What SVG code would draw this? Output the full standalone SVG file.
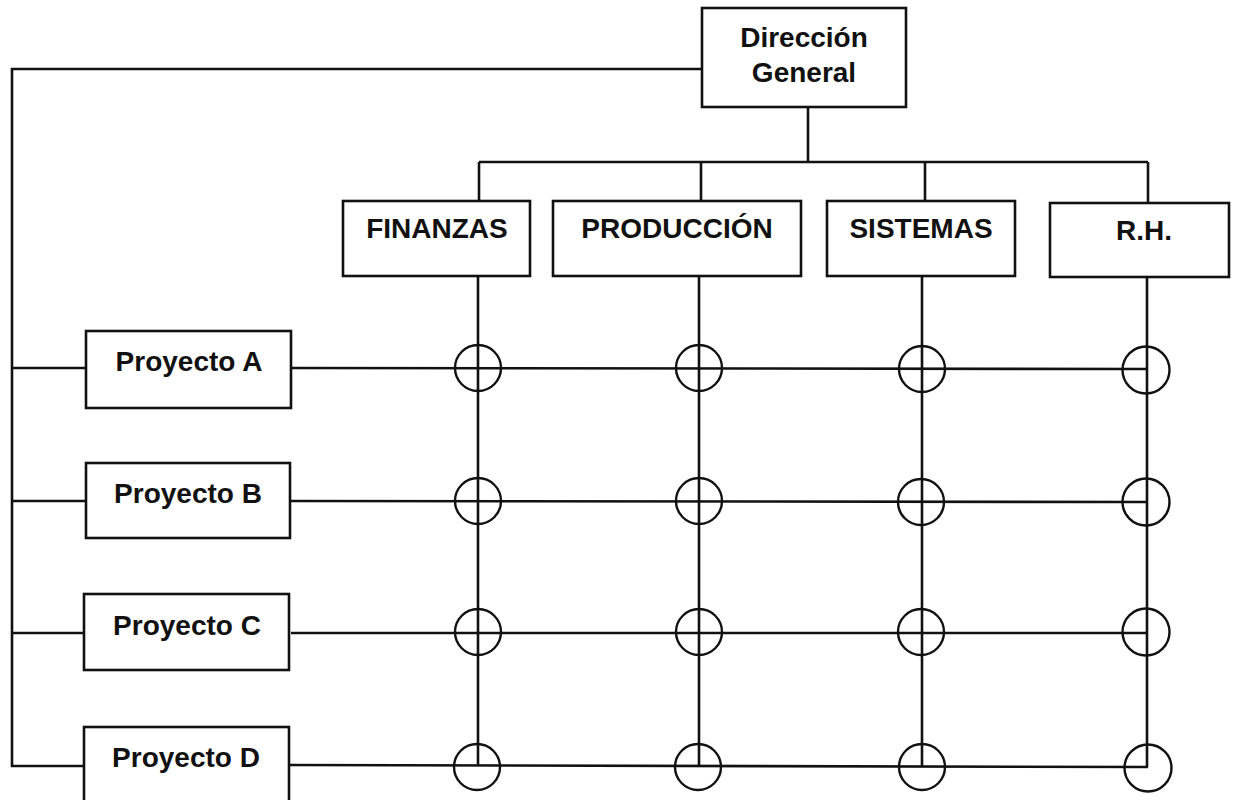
<svg xmlns="http://www.w3.org/2000/svg" width="1233" height="800" viewBox="0 0 1233 800">
  <style>
    .box { fill: #ffffff; stroke: #111111; stroke-width: 2.6; }
    .wire { fill: none; stroke: #111111; stroke-width: 2.6; stroke-linejoin: miter; }
    .node { fill: none; stroke: #111111; stroke-width: 2.4; }
    .lbl { font-family: "Liberation Sans", Arial, sans-serif; font-weight: bold; font-size: 28px; fill: #111111; text-anchor: middle; }
  </style>
  <rect width="1233" height="800" fill="#ffffff"/>

  <!-- connectors: hierarchy lines, project rows and matrix columns -->
  <g id="connectors" class="wire">
    <!-- general management to the project line -->
    <polyline points="702,69 12,69 12,766 84,766"/>
    <line x1="12" y1="368" x2="86" y2="368"/>
    <line x1="12" y1="501" x2="86" y2="501"/>
    <line x1="12" y1="633" x2="86" y2="633"/>
    <!-- general management to departments -->
    <line x1="808" y1="107" x2="808" y2="162"/>
    <line x1="479" y1="162" x2="1148" y2="162"/>
    <line x1="479" y1="162" x2="479" y2="201"/>
    <line x1="701" y1="162" x2="701" y2="201"/>
    <line x1="925" y1="162" x2="925" y2="201"/>
    <line x1="1148" y1="162" x2="1148" y2="203"/>
    <!-- department columns -->
    <line x1="478" y1="276" x2="478" y2="766"/>
    <line x1="699" y1="276" x2="699" y2="766"/>
    <line x1="922" y1="276" x2="922" y2="766"/>
    <line x1="1147" y1="277" x2="1147" y2="767"/>
    <!-- project rows -->
    <line x1="291" y1="368" x2="1147" y2="369"/>
    <line x1="291" y1="501" x2="1147" y2="502"/>
    <line x1="291" y1="633" x2="1147" y2="633"/>
    <line x1="289" y1="765" x2="1148" y2="767"/>
  </g>

  <!-- matrix intersections -->
  <g id="intersections" class="node">
    <circle cx="478" cy="368" r="23"/>
    <circle cx="699" cy="368" r="23"/>
    <circle cx="922" cy="369" r="23"/>
    <circle cx="1146" cy="370" r="23.5"/>
    <circle cx="478" cy="501" r="23"/>
    <circle cx="699" cy="501" r="23"/>
    <circle cx="921" cy="502" r="23"/>
    <circle cx="1146" cy="502" r="23.5"/>
    <circle cx="478" cy="632" r="23"/>
    <circle cx="699" cy="632" r="23"/>
    <circle cx="921" cy="632" r="23"/>
    <circle cx="1146" cy="632" r="23.5"/>
    <circle cx="477" cy="767" r="23"/>
    <circle cx="698" cy="767" r="23"/>
    <circle cx="922" cy="767" r="23"/>
    <circle cx="1148" cy="768" r="23.5"/>
  </g>

  <g id="direccion-general">
    <rect class="box" x="702" y="8" width="204" height="99"/>
    <text class="lbl" x="804" y="47">Dirección</text>
    <text class="lbl" x="804" y="82">General</text>
  </g>

  <g id="finanzas">
    <rect class="box" x="343" y="201" width="187" height="75"/>
    <text class="lbl" x="437" y="238">FINANZAS</text>
  </g>
  <g id="produccion">
    <rect class="box" x="553" y="201" width="248" height="75"/>
    <text class="lbl" x="677" y="238">PRODUCCIÓN</text>
  </g>
  <g id="sistemas">
    <rect class="box" x="827" y="201" width="188" height="75"/>
    <text class="lbl" x="921" y="238">SISTEMAS</text>
  </g>
  <g id="rh">
    <rect class="box" x="1050" y="203" width="179" height="74"/>
    <text class="lbl" x="1144" y="240">R.H.</text>
  </g>

  <g id="proyecto-a">
    <rect class="box" x="86" y="331" width="205" height="77"/>
    <text class="lbl" x="189" y="371">Proyecto A</text>
  </g>
  <g id="proyecto-b">
    <rect class="box" x="86" y="463" width="204" height="75"/>
    <text class="lbl" x="188" y="503">Proyecto B</text>
  </g>
  <g id="proyecto-c">
    <rect class="box" x="84" y="594" width="205" height="76"/>
    <text class="lbl" x="187" y="635">Proyecto C</text>
  </g>
  <g id="proyecto-d">
    <rect class="box" x="84" y="727" width="205" height="77"/>
    <text class="lbl" x="186" y="767">Proyecto D</text>
  </g>
</svg>
